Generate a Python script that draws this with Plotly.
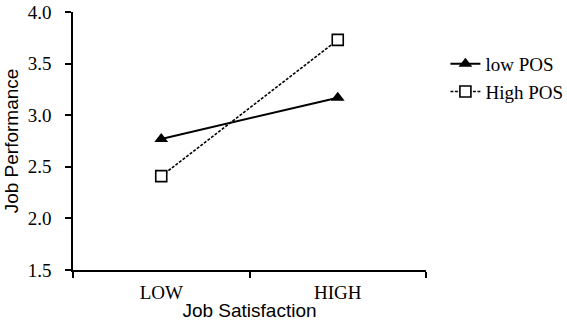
import plotly.graph_objects as go

categories = ["LOW", "HIGH"]
low_pos = [2.77, 3.17]
high_pos = [2.41, 3.73]
y_ticks = [1.5, 2.0, 2.5, 3.0, 3.5, 4.0]
y_tick_labels = ["1.5", "2.0", "2.5", "3.0", "3.5", "4.0"]

fig = go.Figure()
fig.add_trace(go.Scatter(
    x=categories, y=low_pos, name="low POS", mode="lines+markers",
    line=dict(color="black", width=2),
    marker=dict(symbol="triangle-up", size=12, color="black"),
))
fig.add_trace(go.Scatter(
    x=categories, y=high_pos, name="High POS", mode="lines+markers",
    line=dict(color="black", width=1.6, dash="3px,1.5px"),
    marker=dict(symbol="square", size=11, color="white", line=dict(color="black", width=1.6)),
))

fig.update_layout(
    width=567, height=321,
    margin=dict(l=73, r=141, t=12, b=51, autoexpand=False),
    plot_bgcolor="white", paper_bgcolor="white",
    showlegend=True,
    legend=dict(x=1.055, y=0.872, xanchor="left", yanchor="top",
                font=dict(family="Liberation Serif", size=19, color="black"),
                tracegroupgap=0, itemwidth=30, bgcolor="rgba(0,0,0,0)"),
    xaxis=dict(
        type="category", range=[-0.5, 1.5], tickson="boundaries",
        showline=True, linecolor="black", linewidth=1.5,
        ticks="outside", ticklen=6, tickcolor="black", tickwidth=1.5,
        showgrid=False, zeroline=False, ticklabelstandoff=4,
        tickfont=dict(family="Liberation Serif", size=19, color="black"),
        title=dict(text="Job Satisfaction", standoff=0,
                   font=dict(family="Liberation Sans", size=19, color="black")),
    ),
    yaxis=dict(
        range=[1.5, 4.0], tickvals=y_ticks, ticktext=y_tick_labels,
        showline=True, linecolor="black", linewidth=1.5,
        ticks="outside", ticklen=6, tickcolor="black", tickwidth=1.5,
        showgrid=False, zeroline=False, ticklabelstandoff=10,
        tickfont=dict(family="Liberation Serif", size=19, color="black"),
        title=dict(text="Job Performance", standoff=4,
                   font=dict(family="Liberation Sans", size=19, color="black")),
    ),
)

fig.write_html("out.html")
